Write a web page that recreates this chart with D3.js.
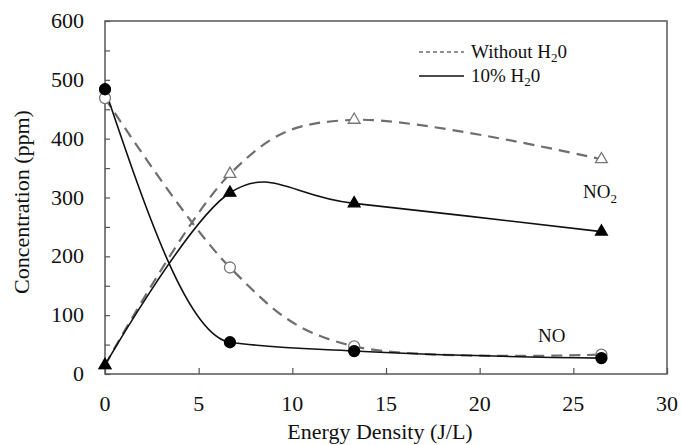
<!DOCTYPE html>
<html>
<head>
<meta charset="utf-8">
<script src="https://cdn.jsdelivr.net/npm/d3@7"></script>
<style>
  body { margin: 0; background: #fff; }
</style>
</head>
<body>
<div id="svgcontainer"></div>
<script>
var width = 682;
var height = 445;

// energy density (J/L)
var energy = [0, 6.67, 13.3, 26.5];
// concentrations (ppm)
var no2Dry = [15, 340, 432, 365];
var no2Wet = [15, 308, 290, 242];
var noDry = [469, 181, 47, 33];
var noWet = [484, 54, 39, 27];

var xTicks = [0, 5, 10, 15, 20, 25, 30];
var yTicks = [0, 100, 200, 300, 400, 500, 600];
var yMinor = [50, 150, 250, 350, 450, 550];

var margin = {left: 105, right: 15, top: 21, bottom: 71};
var serif = "'Liberation Serif', 'DejaVu Serif', 'Noto Serif', serif";

function drawCanvas() {
    var svg = d3.select("#svgcontainer").append("svg").attr("width", width).attr("height", height)
        .style("font-family", serif);

    var x = d3.scaleLinear().domain([0, 30]).range([margin.left, width - margin.right]);
    var y = d3.scaleLinear().domain([0, 600]).range([height - margin.bottom, margin.top]);

    // plot box
    svg.append("rect")
        .attr("x", x(0)).attr("y", y(600))
        .attr("width", x(30) - x(0)).attr("height", y(0) - y(600))
        .attr("fill", "none").attr("stroke", "#555").attr("stroke-width", 1.5);

    // ticks
    var xAxis = svg.append("g").attr("transform", "translate(0," + y(0) + ")")
        .call(d3.axisBottom(x).tickValues(xTicks).tickSize(-6).tickFormat(""));
    xAxis.select(".domain").remove();
    xAxis.selectAll("line").attr("stroke", "#555").attr("stroke-width", 1.2);

    var yAxis = svg.append("g").attr("transform", "translate(" + x(0) + ",0)")
        .call(d3.axisLeft(y).tickValues(yTicks.concat(yMinor)).tickSize(-5).tickFormat(""));
    yAxis.select(".domain").remove();
    yAxis.selectAll("line").attr("stroke", "#555").attr("stroke-width", 1.2);

    // tick labels
    svg.selectAll("text.xlab").data(xTicks).enter().append("text")
        .attr("class", "xlab")
        .attr("x", function(d){ return x(d); })
        .attr("y", y(0) + 37)
        .attr("text-anchor", "middle")
        .attr("font-size", "22px").attr("fill", "#111")
        .text(function(d){ return d; });

    svg.selectAll("text.ylab").data(yTicks).enter().append("text")
        .attr("class", "ylab")
        .attr("x", 84)
        .attr("y", function(d){ return y(d) + 7; })
        .attr("text-anchor", "end")
        .attr("font-size", "22px").attr("fill", "#111")
        .text(function(d){ return d; });

    // axis titles
    svg.append("text")
        .attr("x", 380).attr("y", 439)
        .attr("text-anchor", "middle").attr("font-size", "22px").attr("fill", "#111")
        .text("Energy Density (J/L)");
    svg.append("text")
        .attr("transform", "translate(29," + 202 + ") rotate(-90)")
        .attr("text-anchor", "middle").attr("font-size", "22px").attr("fill", "#111")
        .text("Concentration (ppm)");

    var smooth = d3.line()
        .x(function(d){ return x(d[0]); })
        .y(function(d){ return y(d[1]); })
        .curve(d3.curveCatmullRom.alpha(0));
    var mono = d3.line()
        .x(function(d){ return x(d[0]); })
        .y(function(d){ return y(d[1]); })
        .curve(d3.curveMonotoneX);

    function pts(vals) { return energy.map(function(e, i){ return [e, vals[i]]; }); }

    var dryStyle = {stroke: "#6e6e6e", width: 2.2, dash: "11,7"};
    var wetStyle = {stroke: "#111", width: 1.6, dash: null};

    [[noDry, dryStyle, smooth], [no2Dry, dryStyle, smooth], [noWet, wetStyle, mono], [no2Wet, wetStyle, smooth]].forEach(function(s) {
        svg.append("path")
            .datum(pts(s[0]))
            .attr("d", s[2])
            .attr("fill", "none")
            .attr("stroke", s[1].stroke)
            .attr("stroke-width", s[1].width)
            .attr("stroke-dasharray", s[1].dash);
    });

    var tri = d3.symbol().type(d3.symbolTriangle).size(60);
    var circ = d3.symbol().type(d3.symbolCircle).size(95);

    function markers(vals, sym, fill, stroke) {
        svg.append("g").selectAll("path").data(pts(vals)).enter().append("path")
            .attr("d", sym)
            .attr("transform", function(d){ return "translate(" + x(d[0]) + "," + y(d[1]) + ")"; })
            .attr("fill", fill)
            .attr("stroke", stroke)
            .attr("stroke-width", 1.3);
    }
    markers(noDry, circ, "#fff", "#777");
    markers(no2Dry, tri, "#fff", "#777");
    markers(noWet, circ, "#000", "#000");
    markers(no2Wet, tri, "#000", "#000");

    // series labels
    var no2 = svg.append("text").attr("x", 583).attr("y", 198).attr("font-size", "19px").attr("fill", "#111");
    no2.append("tspan").text("NO");
    no2.append("tspan").attr("dy", 5).attr("font-size", "13px").text("2");
    svg.append("text").attr("x", 538).attr("y", 342).attr("font-size", "19px").attr("fill", "#111").text("NO");

    // legend
    var legend = [
        {name: "Without H", y: 52, st: dryStyle, dash: "4,3"},
        {name: "10% H", y: 76, st: wetStyle, dash: null}
    ];
    legend.forEach(function(l) {
        svg.append("line")
            .attr("x1", 419).attr("x2", 464)
            .attr("y1", l.y).attr("y2", l.y)
            .attr("stroke", l.st.stroke).attr("stroke-width", l.st.dash ? 1.3 : 1.6)
            .attr("stroke-dasharray", l.dash);
        var t = svg.append("text").attr("x", 471).attr("y", l.y + 6).attr("font-size", "19px").attr("fill", "#111");
        t.append("tspan").text(l.name);
        t.append("tspan").attr("dy", 4).attr("font-size", "13px").text("2");
        t.append("tspan").attr("dy", -4).text("0");
    });
}
drawCanvas();
</script>
</body>
</html>
